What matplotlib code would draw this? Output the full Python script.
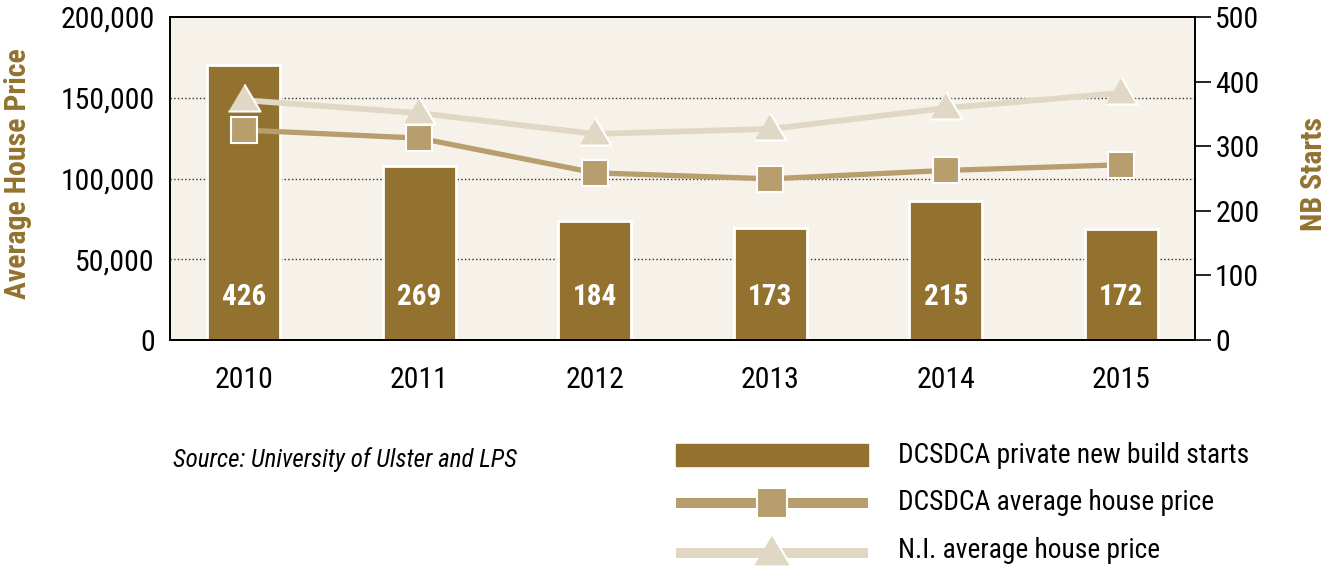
import numpy as np
import matplotlib.pyplot as plt
from matplotlib.patches import Rectangle
from matplotlib.ticker import FuncFormatter

years = ["2010", "2011", "2012", "2013", "2014", "2015"]
nb_starts = [426, 269, 184, 173, 215, 172]
dcsdca_price = [130000, 125000, 103500, 99800, 105000, 108500]
ni_price = [148500, 140500, 127600, 130700, 143600, 153000]

series_names = ["DCSDCA private new build starts",
                "DCSDCA average house price",
                "N.I. average house price"]
source_note = "Source: University of Ulster and LPS"

BAR = "#93722f"
SQ = "#b89d6d"
TRI = "#e1d7c5"
BG = "#f6f2ea"

plt.rcParams["font.family"] = ["Roboto Condensed", "DejaVu Sans"]

W, H = 1339, 569
fig = plt.figure(figsize=(W / 100, H / 100), dpi=100)

# triangle that sits a little low on the line
tri = [(-1, -0.69), (1, -0.69), (0, 1.0)]

x = np.arange(len(years))

ax = fig.add_axes([170 / W, 1 - 340 / H, 1025 / W, 323 / H])
ax2 = ax.twinx()
ax.set_zorder(2)
ax2.set_zorder(1)
ax.patch.set_visible(False)
ax2.patch.set_visible(True)
ax2.set_facecolor(BG)

price_max = 200000
starts_max = 500
price_grid = [50000, 100000, 150000]

# bars (right axis)
ax2.bar(x, nb_starts, width=0.415, color=BAR, edgecolor="white", linewidth=2, zorder=2)
ax2.set_ylim(0, starts_max)
ax2.set_yticks(range(0, starts_max + 1, 100))
ax2.set_yticks([v * starts_max / price_max for v in price_grid], minor=True)
ax2.set_axisbelow(True)
ax2.grid(axis="y", which="minor", linestyle=":", color="#333333", linewidth=1)
ax2.grid(axis="y", which="major", visible=False)
ax2.tick_params(axis="y", which="minor", length=0)
ax2.tick_params(axis="y", which="major", length=11.5, width=1.2, pad=3,
                labelsize=21.5, direction="out")
for xi, v in zip(x, nb_starts):
    ax2.text(xi, 67, str(v), ha="center", va="center", color="white",
             fontweight="bold", fontsize=21, zorder=3)

# price lines (left axis)
ax.plot(x, ni_price, color=TRI, lw=4.2, marker=tri, ms=23,
        mec="white", mew=1.5, zorder=3)
ax.plot(x, dcsdca_price, color=SQ, lw=3.8, marker="s", ms=19,
        mec="white", mew=1.5, zorder=4)
ax.set_ylim(0, price_max)
ax.set_xlim(-0.42, len(years) - 1 + 0.42)
ax.set_yticks(range(0, price_max + 1, 50000))
ax.yaxis.set_major_formatter(FuncFormatter(lambda v, p: f"{v:,.0f}"))
ax.tick_params(axis="y", length=0, pad=11, labelsize=21.5)
ax.set_xticks(x, years)
ax.tick_params(axis="x", length=0, pad=19, labelsize=21.5)

for a in (ax, ax2):
    for s in a.spines.values():
        s.set_linewidth(1.3)
        s.set_color("black")

ax.set_ylabel("Average House Price", color=BAR, fontweight="bold", fontsize=21.5)
ax.yaxis.set_label_coords(-0.1346, 0.514)
ax2.set_ylabel("NB Starts", color=BAR, fontweight="bold", fontsize=21.5)
ax2.yaxis.set_label_coords(1.1024, 0.514)

# legend and source note, laid out in pixel space
lg = fig.add_axes([0, 0, 1, 1])
lg.set_xlim(0, W)
lg.set_ylim(H, 0)
lg.axis("off")
lg.set_zorder(0)

lg.add_patch(Rectangle((676, 444), 192, 22, color=BAR))
lg.plot([676, 868], [503, 503], color=SQ, lw=7.2, solid_capstyle="butt")
lg.plot([772], [503], marker="s", ms=22, color=SQ, mec="white", mew=1.5)
lg.plot([676, 868], [553, 553], color=TRI, lw=7.2, solid_capstyle="butt")
lg.plot([772], [553], marker=tri, ms=27, color=TRI, mec="white", mew=1.5)
for yy, name in zip([455, 503, 551], series_names):
    lg.text(898, yy, name, ha="left", va="center", fontsize=19.7)
lg.text(173, 460, source_note, ha="left", va="center", fontsize=18, style="italic")

fig.savefig("out.png", dpi=100)
